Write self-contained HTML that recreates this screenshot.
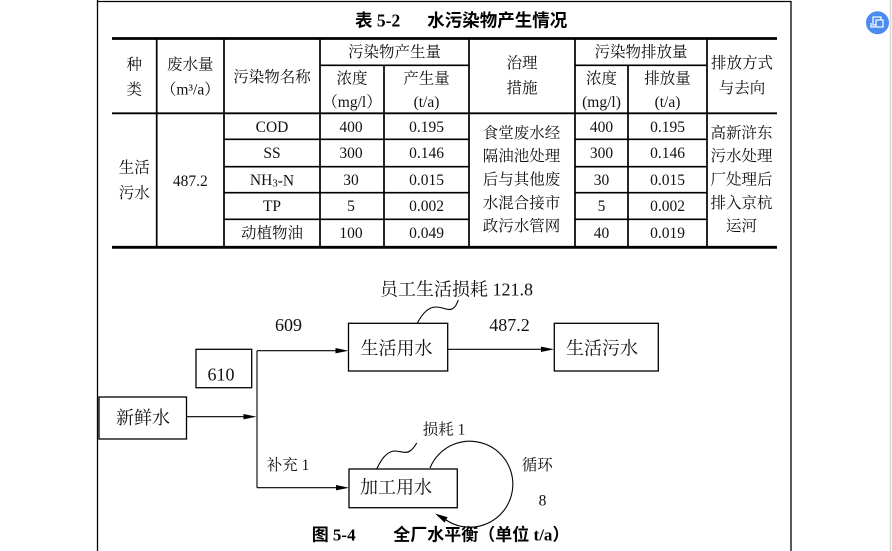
<!DOCTYPE html>
<html><head><meta charset="utf-8">
<style>
html,body{margin:0;padding:0;background:#fff;}
body{width:892px;height:551px;overflow:hidden;position:relative;}
svg{position:absolute;left:0;top:0;}
.s{font-family:"Liberation Serif","Noto Serif CJK SC",serif;fill:#111;}
.b{font-family:"Liberation Serif","Noto Sans CJK SC",sans-serif;font-weight:bold;fill:#000;}
</style></head>
<body>
<svg width="892" height="551" viewBox="0 0 892 551" xmlns="http://www.w3.org/2000/svg">
<!-- page border -->
<line x1="97.5" y1="0" x2="97.5" y2="551" stroke="#000" stroke-width="1.3"/>
<line x1="97" y1="1.5" x2="791" y2="1.5" stroke="#000" stroke-width="1.2"/>
<line x1="791" y1="1" x2="791" y2="551" stroke="#000" stroke-width="1.3"/>
<line x1="890.5" y1="0" x2="890.5" y2="551" stroke="#d8d8d8" stroke-width="1.5"/>
<!-- blue icon -->
<circle cx="877.5" cy="22.7" r="11.5" fill="#4a8cf0"/>
<rect x="873" y="17" width="8" height="8" fill="none" stroke="#fff" stroke-width="1.2"/>
<rect x="876" y="20" width="7" height="7" fill="#4a8cf0" stroke="#fff" stroke-width="1.2"/>
<path d="M871 23 v4 h4" fill="none" stroke="#fff" stroke-width="1.2"/>

<!-- title -->
<text class="b" x="355" y="20.7" font-size="17.5" dominant-baseline="central">表 5-2</text>
<text class="b" x="427.3" y="20.7" font-size="17.5" dominant-baseline="central">水污染物产生情况</text>

<!-- table lines -->
<g stroke="#000">
<line x1="112" y1="38.5" x2="777" y2="38.5" stroke-width="2.8"/>
<line x1="112" y1="247.3" x2="777" y2="247.3" stroke-width="2.8"/>
<line x1="112" y1="113.3" x2="777" y2="113.3" stroke-width="1.8"/>
<line x1="320" y1="65.3" x2="469" y2="65.3" stroke-width="1.6"/>
<line x1="575" y1="65.3" x2="707" y2="65.3" stroke-width="1.6"/>
<g stroke-width="1.6">
<line x1="224" y1="139.3" x2="469" y2="139.3"/>
<line x1="224" y1="166.7" x2="469" y2="166.7"/>
<line x1="224" y1="192.7" x2="469" y2="192.7"/>
<line x1="224" y1="219.3" x2="469" y2="219.3"/>
<line x1="575" y1="139.3" x2="707" y2="139.3"/>
<line x1="575" y1="166.7" x2="707" y2="166.7"/>
<line x1="575" y1="192.7" x2="707" y2="192.7"/>
<line x1="575" y1="219.3" x2="707" y2="219.3"/>
</g>
<g stroke-width="1.7">
<line x1="156.7" y1="38" x2="156.7" y2="247"/>
<line x1="224" y1="38" x2="224" y2="247"/>
<line x1="320" y1="38" x2="320" y2="247"/>
<line x1="384" y1="65" x2="384" y2="247"/>
<line x1="469" y1="38" x2="469" y2="247"/>
<line x1="575" y1="38" x2="575" y2="247"/>
<line x1="628" y1="65" x2="628" y2="247"/>
<line x1="707" y1="38" x2="707" y2="247"/>
</g>
</g>

<!-- table text -->
<g class="s" font-size="15.5" text-anchor="middle" dominant-baseline="central">
<text x="134.3" y="65">种</text>
<text x="134.3" y="90">类</text>
<text x="190.3" y="65">废水量</text>
<text x="190.3" y="90">（m³/a）</text>
<text x="272" y="77.7">污染物名称</text>
<text x="394.5" y="52.3">污染物产生量</text>
<text x="352" y="79">浓度</text>
<text x="352" y="102.3">（mg/l）</text>
<text x="426.5" y="79">产生量</text>
<text x="426.5" y="102.3">(t/a)</text>
<text x="522" y="63.3">治理</text>
<text x="522" y="88.3">措施</text>
<text x="641" y="52.3">污染物排放量</text>
<text x="601.5" y="79">浓度</text>
<text x="601.5" y="102.3">(mg/l)</text>
<text x="667.5" y="79">排放量</text>
<text x="667.5" y="102.3">(t/a)</text>
<text x="742" y="63.3">排放方式</text>
<text x="742" y="88.3">与去向</text>

<text x="134.3" y="168">生活</text>
<text x="134.3" y="193.3">污水</text>
<text x="190.3" y="181.7">487.2</text>

<text x="272" y="127.7">COD</text>
<text x="272" y="153.7">SS</text>
<text x="272" y="180.3">NH<tspan font-size="11" dy="3">3</tspan><tspan dy="-3">-N</tspan></text>
<text x="272" y="206.7">TP</text>
<text x="272" y="233.3">动植物油</text>

<text x="351" y="127.7">400</text>
<text x="351" y="153.7">300</text>
<text x="351" y="180.3">30</text>
<text x="351" y="206.7">5</text>
<text x="351" y="233.3">100</text>

<text x="426.5" y="127.7">0.195</text>
<text x="426.5" y="153.7">0.146</text>
<text x="426.5" y="180.3">0.015</text>
<text x="426.5" y="206.7">0.002</text>
<text x="426.5" y="233.3">0.049</text>

<text x="521.5" y="133.3">食堂废水经</text>
<text x="521.5" y="156.7">隔油池处理</text>
<text x="521.5" y="180">后与其他废</text>
<text x="521.5" y="203.3">水混合接市</text>
<text x="521.5" y="226.7">政污水管网</text>

<text x="601.5" y="127.7">400</text>
<text x="601.5" y="153.7">300</text>
<text x="601.5" y="180.3">30</text>
<text x="601.5" y="206.7">5</text>
<text x="601.5" y="233.3">40</text>

<text x="667.5" y="127.7">0.195</text>
<text x="667.5" y="153.7">0.146</text>
<text x="667.5" y="180.3">0.015</text>
<text x="667.5" y="206.7">0.002</text>
<text x="667.5" y="233.3">0.019</text>

<text x="741.5" y="133.3">高新浒东</text>
<text x="741.5" y="156.7">污水处理</text>
<text x="741.5" y="180">厂处理后</text>
<text x="741.5" y="203.3">排入京杭</text>
<text x="741.5" y="226.7">运河</text>
</g>

<!-- diagram -->
<g fill="none" stroke="#000" stroke-width="1.3">
<rect x="99" y="397" width="87.5" height="42"/>
<rect x="196" y="349.3" width="55.7" height="38.4"/>
<rect x="348.5" y="323.3" width="99.2" height="47.7"/>
<rect x="554.3" y="323.3" width="104" height="47.7"/>
<rect x="349" y="469" width="108.3" height="38.7"/>
</g>
<g fill="none" stroke="#000" stroke-width="1.1">
<line x1="186.7" y1="416.7" x2="245" y2="416.7"/>
<line x1="257" y1="350.7" x2="257" y2="487.7"/>
<line x1="257" y1="350.7" x2="336" y2="350.7"/>
<line x1="447.7" y1="349.3" x2="542" y2="349.3"/>
<line x1="257" y1="487.7" x2="337" y2="487.7"/>
<path d="M417.3,323.3 C422,314 428,307 436,307 C443,307 448,311 452,309 C456,307 457,303 458.3,300"/>
<path d="M376.7,469 C381,460 386,452 394,451 C400,451 406,454 410,451 C413,449 415,446 416.7,443"/>
<path d="M430,468 A43 43 0 1 1 446,520"/>
</g>
<g fill="#000">
<polygon points="256.5,416.7 243.5,414 243.5,419.4"/>
<polygon points="348.5,350.7 335.5,348 335.5,353.4"/>
<polygon points="554,349.3 541,346.6 541,352"/>
<polygon points="349,487.7 336,485 336,490.4"/>
<polygon points="435,513.5 447.6,517.3 444.6,522.6"/>
</g>

<g class="s" font-size="18" dominant-baseline="central">
<text x="143" y="418" text-anchor="middle">新鲜水</text>
<text x="221" y="374.5" text-anchor="middle">610</text>
<text x="288.5" y="325" text-anchor="middle">609</text>
<text x="396.5" y="348.3" text-anchor="middle">生活用水</text>
<text x="509.5" y="325" text-anchor="middle">487.2</text>
<text x="602" y="348.3" text-anchor="middle">生活污水</text>
<text x="380" y="289.5">员工生活损耗 121.8</text>
<text x="396" y="487.7" text-anchor="middle">加工用水</text>
</g>
<g class="s" font-size="15.5" dominant-baseline="central">
<text x="266.7" y="465.5">补充  1</text>
<text x="422.7" y="430">损耗 1</text>
<text x="521.7" y="465.5">循环</text>
<text x="542.5" y="501" text-anchor="middle">8</text>
</g>
<text class="b" x="311.7" y="535" font-size="17" dominant-baseline="central">图 5-4</text>
<text class="b" x="393.3" y="535" font-size="17" dominant-baseline="central">全厂水平衡（单位 t/a）</text>
</svg>
</body></html>
